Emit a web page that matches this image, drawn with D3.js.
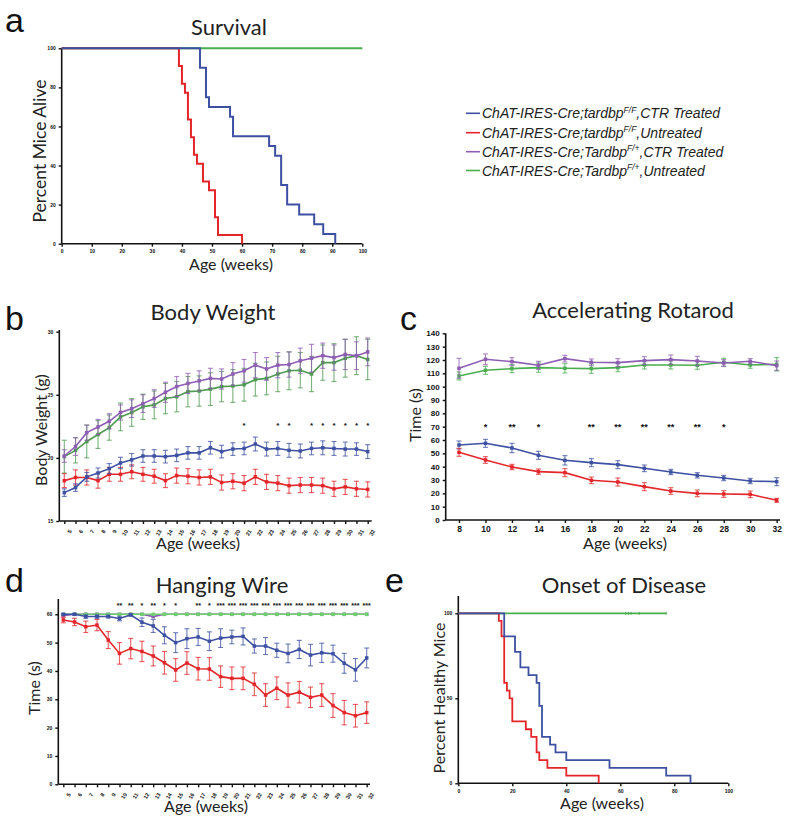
<!DOCTYPE html>
<html><head><meta charset="utf-8">
<script src="https://cdn.jsdelivr.net/npm/d3@7/dist/d3.min.js"></script>
<style>body{margin:0;background:#fff}svg{display:block}</style>
</head><body>
<svg id="chart" width="800" height="821"></svg>
<script>
// ---------------- DATA ----------------
const seriesNames = ["ChAT-IRES-Cre;tardbp|F/F|,CTR Treated","ChAT-IRES-Cre;tardbp|F/F|,Untreated","ChAT-IRES-Cre;Tardbp|F/+|,CTR Treated","ChAT-IRES-Cre;Tardbp|F/+|,Untreated"];
const seriesKeys = ["blue","red","purple","green"];

// a: Survival (Kaplan-Meier steps)
const survBlueT = [0,46,48,49,56,57,69,71,73,75,79,84,87,91];
const survBlueV = [100,90,75,70,65,55,50,45,30,20,15,10,5,0];
const survRedT = [0,39,40,41,42,43,44,45,47,49,51,52,60];
const survRedV = [100,90.9,81.8,77.3,63.6,54.5,45.5,40.9,31.8,27.3,13.6,4.5,0];
const survGreenT = [0,100];
const survGreenV = [100,100];
const survXTicks = [0,10,20,30,40,50,60,70,80,90,100];
const survYTicks = [0,20,40,60,80,100];

// b: Body weight
const weeksB = [5,6,7,8,9,10,11,12,13,14,15,16,17,18,19,20,21,22,23,24,25,26,27,28,29,30,31,32];
const bwPurple = [20.15,20.9,22.0,22.45,22.9,23.6,23.9,24.3,24.7,25.2,25.65,25.9,26.1,26.3,26.25,26.65,26.9,27.35,27.05,27.35,27.4,27.7,27.9,28.1,27.95,28.2,28.1,28.4];
const bwPurpleE = [0.5,0.7,0.6,0.6,0.6,0.6,0.7,0.7,0.7,0.8,0.8,0.8,0.8,0.8,0.8,0.9,0.9,1.0,0.9,1.0,1.0,1.0,1.1,1.0,1.0,1.2,1.1,1.1];
const bwGreen = [20.1,20.6,21.3,21.85,22.4,23.25,23.6,24.05,24.2,24.7,24.85,25.25,25.3,25.45,25.65,25.7,25.8,26.2,26.3,26.65,26.9,26.95,26.65,27.55,27.55,27.9,28.1,27.8];
const bwGreenE = [1.3,1.0,1.3,1.1,1.0,1.1,1.1,1.0,1.1,1.2,1.2,1.2,1.2,1.3,1.2,1.3,1.3,1.3,1.3,1.4,1.5,1.4,1.4,1.4,1.5,1.5,1.5,1.6];
const bwBlue = [17.25,17.65,18.5,18.8,19.15,19.6,19.85,20.15,20.15,20.1,20.2,20.4,20.4,20.8,20.5,20.7,20.75,21.1,20.7,20.75,20.6,20.55,20.75,20.8,20.75,20.7,20.7,20.5];
const bwBlueE = [0.3,0.3,0.35,0.4,0.4,0.45,0.5,0.5,0.5,0.5,0.5,0.5,0.5,0.5,0.5,0.5,0.5,0.55,0.55,0.55,0.55,0.55,0.5,0.55,0.55,0.55,0.5,0.55];
const bwRed = [18.2,18.45,18.45,18.2,18.7,18.7,18.9,18.7,18.55,18.2,18.6,18.55,18.45,18.5,18.05,18.15,18.0,18.5,18.1,18.0,17.8,17.85,17.85,17.8,17.55,17.7,17.55,17.5];
const bwRedE = [0.55,0.6,0.6,0.6,0.55,0.55,0.55,0.55,0.55,0.55,0.6,0.6,0.6,0.6,0.6,0.6,0.6,0.6,0.6,0.6,0.6,0.6,0.6,0.6,0.6,0.6,0.6,0.6];
const bwStarWeeks = [21,24,25,27,28,29,30,31,32];
const bwStars = ["*","*","*","*","*","*","*","*","*"];
const bwYTicks = [15,20,25,30];

// c: Accelerating rotarod
const weeksC = [8,10,12,14,16,18,20,22,24,26,28,30,32];
const rrPurple = [113.75,120.5,118.75,116,121,118.25,118,119.5,120.25,119.25,117.75,119,115.75];
const rrPurpleE = [7.5,4,3,3,2.5,2.5,3,3,3.5,3.5,2.5,2,3.5];
const rrGreen = [108,112.25,113.5,114.25,113.75,113.5,114.25,116.25,116.25,116,118.25,116.25,116.75];
const rrGreenE = [3,3,3,3.5,3.5,3.5,3,3,3,3,3,2.5,5];
const rrBlue = [56.25,57.5,54,48.5,44.75,43,41.5,38.75,36,33.5,31.5,29.25,28.75];
const rrBlueE = [3,3,3.5,3,3.5,3,3,2.5,2,2,2,2,3];
const rrRed = [50.75,45,39.75,36.25,35.5,29.75,28.5,25,21.75,20,19.5,19.25,14.75];
const rrRedE = [3,2.5,2,2,3,2.5,3,3,2.5,2.5,2.5,2.5,1.5];
const rrStarWeeks = [10,12,14,18,20,22,24,26,28];
const rrStars = ["*","**","*","**","**","**","**","**","*"];
const rrYTicks = [0,10,20,30,40,50,60,70,80,90,100,110,120,130,140];

// d: Hanging wire
const weeksD = [5,6,7,8,9,10,11,12,13,14,15,16,17,18,19,20,21,22,23,24,25,26,27,28,29,30,31,32];
const hwBlue = [60,60,59.2,59.2,59.2,58.5,59.8,57.2,55.9,52.6,50,51.4,52,50.5,51.6,52,52.2,48.8,48.8,47.3,46.2,47.6,45.6,46.4,46.1,42.7,40.4,44.6];
const hwBlueE = [0.3,0.3,0.6,0.6,0.5,0.8,0.4,1.5,2.3,3,3.5,3.5,3,3.3,3.3,2.4,3,2.5,3,2.5,3.3,3.2,3.8,3.4,3,3.5,4,3.5];
const hwRed = [58,57.3,55.6,56.2,50.9,46.2,47.9,46.9,45.3,42.9,40.35,42.8,40.8,40.7,38,37.4,37.4,35.3,31.5,33.9,31.5,32.5,30.7,31.5,27.8,25.3,24.2,25.3];
const hwRedE = [1,1.3,2,2,3,3.8,3.6,3.6,3.5,4,4,4,4,4,3.8,4,4,4,4,4,4.3,3.8,3.6,4,4.2,4.3,4,3.8];
const hwPurple = [59.5,60,60,60,60,60,60,60,59.2,60,60,60,60,60,60,60,60,60,60,60,60,60,60,60,60,60,60,60];
const hwGreen = [60,60,60,60,60,60,60,60,60,60,60,60,60,60,60,60,60,60,60,60,60,60,60,60,60,60,60,60];
const hwStarWeeks = [10,11,12,13,14,15,17,18,19,20,21,22,23,24,25,26,27,28,29,30,31,32];
const hwStars = ["**","**","*","**","*","*","**","*","***","***","***","***","***","***","***","***","***","***","***","***","***","***"];
const hwYTicks = [0,10,20,30,40,50,60];

// e: Onset of disease
const onsBlueT = [0,17,21,23,26,29,30,31,34,36,40,56,77,86];
const onsBlueV = [100,86.4,77.3,68.2,63.6,59.1,45.5,27.3,22.7,18.2,13.6,9.1,4.5,0];
const onsRedT = [0,15,16,17,18,19,20,25,27,29,30,33,40,52];
const onsRedV = [100,95.5,86.4,59.1,54.5,50,36.4,31.8,27.3,18.2,13.6,9.1,4.5,0];
const onsGreenT = [0,77];
const onsGreenV = [100,100];
const onsGreenCensor = [62,63,64,67,77];
const onsXTicks = [0,20,40,60,80,100];
const onsYTicks = [0,50,100];

// ---------------- DRAW ----------------
const COL = {blue:"#3d50a2", red:"#e4262a", purple:"#8e5db4", green:"#4aad4f"};
const svg = d3.select("#chart");
const TXT = "Lato, 'Open Sans', sans-serif";
const TICKF = "'Liberation Sans', Arial, sans-serif";

function label(x,y,t,size,opts={}){
  const el = svg.append("text").attr("x",x).attr("y",y).text(t)
    .attr("font-family",opts.family||TXT).attr("font-size",size)
    .attr("text-anchor",opts.anchor||"middle").attr("fill","#222");
  if(opts.rotate) el.attr("transform",`rotate(${opts.rotate},${x},${y})`);
  return el;
}
function styleAxis(g,fs){
  g.select(".domain").remove();
  g.selectAll("line").attr("stroke","#111").attr("stroke-width",1.4);
  g.selectAll("text").attr("font-family",TICKF).attr("font-size",fs).attr("font-weight","bold").attr("fill","#111");
}
function axisLines(x0,x1,yBase,yTop,xAxisPos){
  svg.append("line").attr("x1",x0).attr("x2",x1).attr("y1",yBase).attr("y2",yBase).attr("stroke","#111").attr("stroke-width",1.6);
  svg.append("line").attr("x1",xAxisPos).attr("x2",xAxisPos).attr("y1",yBase).attr("y2",yTop).attr("stroke","#111").attr("stroke-width",1.6);
}
function stepCurve(x,y,T,V,color,w){
  const pts = T.map((t,i)=>[t,V[i]]);
  svg.append("path").attr("d",d3.line().x(d=>x(d[0])).y(d=>y(d[1])).curve(d3.curveStepAfter)(pts))
    .attr("fill","none").attr("stroke",color).attr("stroke-width",w||2);
}
function errSeries(x,y,X,V,E,color,ms){
  const pts = X.map((t,i)=>[t,V[i],E?E[i]:0]);
  const g = svg.append("g");
  if(E){
    pts.forEach(d=>{
      const xx=x(d[0]), y1=y(d[1]-d[2]), y2=y(d[1]+d[2]);
      g.append("line").attr("x1",xx).attr("x2",xx).attr("y1",y1).attr("y2",y2).attr("stroke",color).attr("stroke-width",1.1).attr("opacity",0.75);
      [y1,y2].forEach(yy=>g.append("line").attr("x1",xx-2.5).attr("x2",xx+2.5).attr("y1",yy).attr("y2",yy).attr("stroke",color).attr("stroke-width",1.1).attr("opacity",0.75));
    });
  }
  g.append("path").attr("d",d3.line().x(d=>x(d[0])).y(d=>y(d[1]))(pts)).attr("fill","none").attr("stroke",color).attr("stroke-width",1.6);
  g.selectAll("rect").data(pts).join("rect").attr("x",d=>x(d[0])-ms/2).attr("y",d=>y(d[1])-ms/2).attr("width",ms).attr("height",ms).attr("fill",color);
}
function stars(x,yPix,W,S,fs){
  W.forEach((w,i)=>svg.append("text").attr("x",x(w)).attr("y",yPix).text(S[i]).attr("text-anchor","middle")
    .attr("font-family",TICKF).attr("font-weight","bold").attr("font-size",fs).attr("fill","#111"));
}
function panelLetter(x,y,t){ svg.append("text").attr("x",x).attr("y",y).text(t).attr("font-family",TICKF).attr("font-size",34).attr("fill","#111"); }

// ---- Panel a ----
{
  const x = d3.scaleLinear().domain([0,100]).range([61.7,362.3]);
  const y = d3.scaleLinear().domain([0,100]).range([243.7,48.3]);
  axisLines(61.7,362.3,243.7,48.3,61.7);
  styleAxis(svg.append("g").attr("transform","translate(0,243.7)").call(d3.axisBottom(x).tickValues(survXTicks).tickSize(3)),5);
  styleAxis(svg.append("g").attr("transform","translate(61.7,0)").call(d3.axisLeft(y).tickValues(survYTicks).tickSize(3)),5);
  stepCurve(x,y,survGreenT,survGreenV,COL.green,2);
  stepCurve(x,y,survRedT,survRedV,COL.red,2);
  stepCurve(x,y,survBlueT,survBlueV,COL.blue,2);
  label(229,35,"Survival",22);
  label(231,270,"Age (weeks)",16);
  label(46,151,"Percent Mice Alive",17.5,{rotate:-90});
  panelLetter(5,32,"a");
}

// ---- Legend ----
{
  const rows=[113.3,132.7,151.7,170.5];
  seriesNames.forEach((n,i)=>{
    svg.append("line").attr("x1",466).attr("x2",480).attr("y1",rows[i]).attr("y2",rows[i]).attr("stroke",COL[seriesKeys[i]]).attr("stroke-width",1.6);
    const parts=n.split("|");
    const t=svg.append("text").attr("x",482).attr("y",rows[i]+5).attr("font-family",TICKF).attr("font-style","italic").attr("font-size",14).attr("fill","#222");
    t.append("tspan").text(parts[0]);
    t.append("tspan").text(parts[1]).attr("font-size",8.5).attr("dy",-5.5);
    t.append("tspan").text(parts[2]).attr("dy",5.5);
  });
}

// ---- Panel b ----
{
  const x = d3.scalePoint().domain(weeksB).range([64.3,367.7]);
  const y = d3.scaleLinear().domain([15,30]).range([521,331.7]);
  axisLines(59.3,371.7,521,330,59.3);
  const gx = svg.append("g").attr("transform","translate(0,521)").call(d3.axisBottom(x).tickSize(3));
  styleAxis(gx,5.5);
  gx.selectAll("text").attr("text-anchor","end").attr("dy",0).attr("transform","translate(2,7) rotate(-60)");
  styleAxis(svg.append("g").attr("transform","translate(59.3,0)").call(d3.axisLeft(y).tickValues(bwYTicks).tickSize(3)),5);
  errSeries(x,y,weeksB,bwGreen,bwGreenE,"#4e9a50",3.5);
  errSeries(x,y,weeksB,bwPurple,bwPurpleE,COL.purple,3.5);
  errSeries(x,y,weeksB,bwRed,bwRedE,COL.red,3.5);
  errSeries(x,y,weeksB,bwBlue,bwBlueE,COL.blue,3.5);
  stars(x,428,bwStarWeeks,bwStars,8);
  label(213,320,"Body Weight",22);
  label(198,549,"Age (weeks)",16);
  label(47,430,"Body Weight (g)",16,{rotate:-90});
  panelLetter(5,330,"b");
}

// ---- Panel c ----
{
  const x = d3.scaleLinear().domain([8,32]).range([459,776.7]);
  const y = d3.scaleLinear().domain([0,140]).range([520,333.3]);
  axisLines(445.7,780,520,333.3,445.7);
  styleAxis(svg.append("g").attr("transform","translate(0,520)").call(d3.axisBottom(x).tickValues(weeksC).tickSize(3).tickFormat(d3.format("d"))),8.5);
  styleAxis(svg.append("g").attr("transform","translate(445.7,0)").call(d3.axisLeft(y).tickValues(rrYTicks).tickSize(3)),8);
  errSeries(x,y,weeksC,rrGreen,rrGreenE,COL.green,3.5);
  errSeries(x,y,weeksC,rrPurple,rrPurpleE,COL.purple,3.5);
  errSeries(x,y,weeksC,rrBlue,rrBlueE,COL.blue,3.5);
  errSeries(x,y,weeksC,rrRed,rrRedE,COL.red,3.5);
  stars(x,430,rrStarWeeks,rrStars,9);
  label(633,318,"Accelerating Rotarod",22);
  label(625,549,"Age (weeks)",16);
  label(421,415,"Time (s)",16,{rotate:-90});
  panelLetter(400,330,"c");
}

// ---- Panel d ----
{
  const x = d3.scalePoint().domain(weeksD).range([63.3,366.7]);
  const y = d3.scaleLinear().domain([0,60]).range([784.3,614.3]);
  axisLines(58.3,370,784.3,599,58.3);
  const gx = svg.append("g").attr("transform","translate(0,784.3)").call(d3.axisBottom(x).tickSize(3));
  styleAxis(gx,5.5);
  gx.selectAll("text").attr("text-anchor","end").attr("dy",0).attr("transform","translate(2,7) rotate(-60)");
  styleAxis(svg.append("g").attr("transform","translate(58.3,0)").call(d3.axisLeft(y).tickValues(hwYTicks).tickSize(3)),5);
  errSeries(x,y,weeksD,hwPurple,null,COL.purple,3.5);
  errSeries(x,y,weeksD,hwGreen,null,"#6fcf6f",3.5);
  errSeries(x,y,weeksD,hwRed,hwRedE,COL.red,3.5);
  errSeries(x,y,weeksD,hwBlue,hwBlueE,COL.blue,3.5);
  stars(x,608,hwStarWeeks,hwStars,7);
  label(222,593,"Hanging Wire",22);
  label(206,812,"Age (weeks)",16);
  label(40,688,"Time (s)",16,{rotate:-90});
  panelLetter(5,592,"d");
}

// ---- Panel e ----
{
  const x = d3.scaleLinear().domain([0,100]).range([458.3,728.3]);
  const y = d3.scaleLinear().domain([0,100]).range([783.3,613.3]);
  axisLines(458.3,728.3,783.3,596,458.3);
  styleAxis(svg.append("g").attr("transform","translate(0,783.3)").call(d3.axisBottom(x).tickValues(onsXTicks).tickSize(3)),5);
  styleAxis(svg.append("g").attr("transform","translate(458.3,0)").call(d3.axisLeft(y).tickValues(onsYTicks).tickSize(3)),5);
  stepCurve(x,y,onsGreenT,onsGreenV,COL.green,1.8);
  onsGreenCensor.forEach(c=>svg.append("line").attr("x1",x(c)).attr("x2",x(c)).attr("y1",y(100)-1.5).attr("y2",y(100)+1.5).attr("stroke",COL.green).attr("stroke-width",1));
  stepCurve(x,y,onsRedT,onsRedV,COL.red,1.8);
  stepCurve(x,y,onsBlueT,onsBlueV,COL.blue,1.8);
  label(624,593,"Onset of Disease",22);
  label(602,809,"Age (weeks)",16);
  label(445,698,"Percent Healthy Mice",16,{rotate:-90});
  panelLetter(385,592,"e");
}
</script>
</body></html>
